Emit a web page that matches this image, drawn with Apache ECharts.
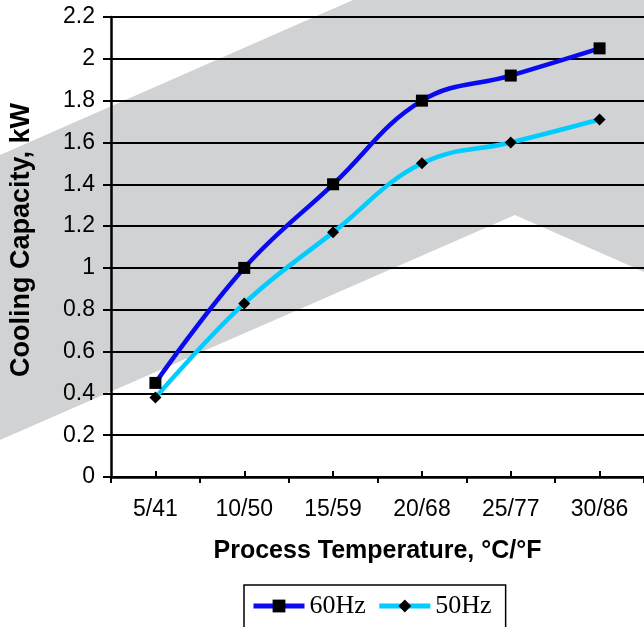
<!DOCTYPE html>
<html>
<head>
<meta charset="utf-8">
<script src="https://cdn.jsdelivr.net/npm/echarts@6/dist/echarts.min.js"></script>
<style>
html,body{margin:0;padding:0;background:#fff;}
#chart{width:644px;height:627px;}
</style>
</head>
<body>
<div id="chart"></div>
<script>
const categories = ['5/41', '10/50', '15/59', '20/68', '25/77', '30/86'];
const hz60 = [0.45, 1.0, 1.4, 1.8, 1.92, 2.05];
const hz50 = [0.38, 0.83, 1.17, 1.5, 1.6, 1.71];
const yTicks = { min: 0, max: 2.2, interval: 0.2 };
const xTitle = 'Process Temperature, °C/°F';
const yTitle = 'Cooling Capacity, kW';

const chart = echarts.init(document.getElementById('chart'), null, { renderer: 'canvas' });
const sans = 'Liberation Sans, Arial, sans-serif';
chart.setOption({
  backgroundColor: '#ffffff',
  animation: false,
  graphic: {
    elements: [{
      type: 'polygon',
      z: -100,
      silent: true,
      shape: { points: [[0, 155], [353, 0], [644, 0], [644, 272], [515, 215], [0, 440]] },
      style: { fill: '#d1d2d4' }
    }, {
      type: 'text',
      z: 10,
      x: 22, y: 240,
      rotation: Math.PI / 2,
      style: {
        text: yTitle,
        fill: '#000',
        font: 'bold 27px Liberation Sans, Arial, sans-serif',
        align: 'center',
        verticalAlign: 'middle'
      }
    }]
  },
  grid: { left: 111, top: 17, bottom: 150, right: -4, containLabel: false },
  legend: {
    left: 244, top: 585,
    orient: 'horizontal',
    data: ['60Hz', '50Hz'],
    itemWidth: 51, itemHeight: 16, itemGap: 11,
    padding: [8, 14, 40, 7],
    borderColor: '#000', borderWidth: 1.5, backgroundColor: '#fff',
    lineStyle: { width: 5 },
    textStyle: { fontFamily: 'Liberation Serif, Times New Roman, serif', fontSize: 26, color: '#000' }
  },
  xAxis: [{
    type: 'category',
    data: categories,
    boundaryGap: true,
    position: 'bottom',
    axisLine: { show: true, lineStyle: { color: '#000', width: 2.5 } },
    axisTick: { show: true, inside: false, length: 6, lineStyle: { color: '#000', width: 2 } },
    axisLabel: { color: '#000', fontFamily: sans, fontSize: 23, margin: 21 },
    name: xTitle,
    nameLocation: 'middle',
    nameGap: 62,
    nameTextStyle: { color: '#000', fontFamily: sans, fontSize: 25, fontWeight: 'bold' },
    splitLine: { show: false }
  }, {
    type: 'category',
    data: categories,
    boundaryGap: true,
    position: 'bottom',
    axisLine: { show: false },
    axisTick: { show: true, inside: true, alignWithLabel: true, length: 6, lineStyle: { color: '#000', width: 2 } },
    axisLabel: { show: false },
    splitLine: { show: false }
  }],
  yAxis: {
    type: 'value',
    min: yTicks.min, max: yTicks.max, interval: yTicks.interval,
    axisLine: { show: true, lineStyle: { color: '#000', width: 2.5 } },
    axisTick: { show: true, inside: false, length: 8, lineStyle: { color: '#000', width: 2 } },
    axisLabel: { color: '#000', fontFamily: sans, fontSize: 23, margin: 16,
      formatter: v => String(Math.round(v * 10) / 10) },
    splitLine: { show: true, lineStyle: { color: '#000', width: 1.8 } }
  },
  series: [{
    name: '60Hz',
    type: 'line',
    data: hz60,
    smooth: 0.4,
    symbol: 'rect',
    symbolSize: 12,
    lineStyle: { color: '#0a0af0', width: 4.5 },
    itemStyle: { color: '#000', borderWidth: 0 },
    z: 3
  }, {
    name: '50Hz',
    type: 'line',
    data: hz50,
    smooth: 0.4,
    symbol: 'diamond',
    symbolSize: 12,
    lineStyle: { color: '#00ccff', width: 4.5 },
    itemStyle: { color: '#000', borderWidth: 0 },
    z: 2
  }]
});
</script>
</body>
</html>
